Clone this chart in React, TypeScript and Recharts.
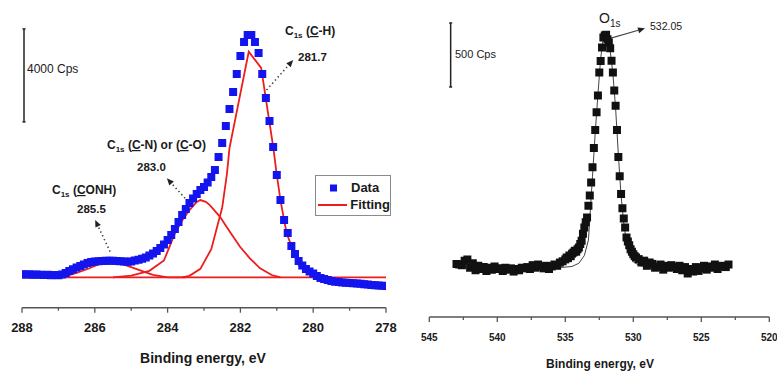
import React from "react";
import { ComposedChart, Scatter, Line, XAxis, YAxis, ReferenceLine, Legend } from "recharts";

const FONT = "'Liberation Sans', Arial, Helvetica, sans-serif";
const AXIS = "#555";
const BLUE = "#1414ee";
const RED = "#ee1c1c";
const INK = "#1a1a1a";

// C1s: channels every 0.1 eV from 288.0 down to 278.0
const C1S_START = 288;
const C1S_STEP = 0.1;
const C1S_COUNTS = [
  1138, 1129, 1138, 1116, 1129, 1116, 1108, 1120, 1099, 1108,
  1095, 1129, 1194, 1280, 1353, 1430, 1495, 1559, 1624, 1667,
  1688, 1701, 1710, 1718, 1723, 1723, 1710, 1701, 1688, 1680,
  1688, 1731, 1761, 1804, 1860, 1946, 2032, 2140, 2269, 2419,
  2613, 2828, 3086, 3387, 3688, 3946, 4204, 4398, 4591, 4763,
  4892, 5086, 5322, 5624, 6183, 6785, 7516, 8247, 8978, 9753,
  10527, 11129, 11430, 11430, 11129, 10656, 9753, 8720, 7731, 6613,
  5408, 4333, 3473, 2914, 2355, 2011, 1710, 1516, 1366, 1258,
  1172, 1065, 978, 935, 892, 849, 819, 806, 785, 772,
  763, 751, 742, 729, 708, 695, 677, 669, 656, 643,
  634,
];

// fitted components
const BG_E = [288, 278];
const BG_C = [1000, 1000];
const CONH_E = [288, 287, 286.8, 286.5, 286.2, 285.9, 285.6, 285.5, 285.3, 285.1, 284.85, 284.6, 284.4, 284, 283.5];
const CONH_C = [1000, 1005, 1060, 1200, 1365, 1560, 1645, 1650, 1605, 1500, 1361, 1220, 1116, 1005, 1000];
const CN_E = [285.5, 285, 284.5, 284.1, 283.8, 283.6, 283.4, 283.2, 283.1, 282.95, 282.84, 282.56, 282.29, 282.01, 281.74, 281.46, 281.14, 280.9];
const CN_C = [1000, 1075, 1285, 1730, 2900, 3450, 3900, 4250, 4330, 4250, 4110, 3610, 2970, 2320, 1825, 1395, 1105, 1000];
const CH_E = [283.6, 283.4, 283.1, 282.8, 282.5, 282.37, 282.3, 281.77, 281.43, 281.1, 281, 280.9, 280.73, 280.4, 280.1, 279.6];
const CH_C = [1000, 1070, 1370, 2220, 4010, 5450, 6560, 10710, 10010, 6630, 5410, 4330, 2900, 1540, 1180, 1000];

const C1S_TICKS = [288, 287, 286, 285, 284, 283, 282, 281, 280, 279, 278];
const C1S_LABELS = [288, 286, 284, 282, 280, 278];

// O1s
const O1S_E = [
  543, 542.8, 542.6, 542.4, 542.2, 542, 541.8, 541.6, 541.4, 541.2,
  541, 540.8, 540.6, 540.4, 540.2, 540, 539.8, 539.6, 539.4, 539.2,
  539, 538.8, 538.6, 538.4, 538.2, 538, 537.8, 537.6, 537.4, 537.2,
  537, 536.8, 536.6, 536.4, 536.2, 536, 535.8, 535.6, 535.4, 535.2,
  535, 534.9, 534.8, 534.7, 534.6, 534.5, 534.4, 534.3, 534.2, 534.1,
  534, 533.9, 533.8, 533.7, 533.6, 533.5, 533.4, 533.3, 533.2, 533.1,
  533, 532.9, 532.8, 532.7, 532.6, 532.5, 532.4, 532.3, 532.2, 532.1,
  532, 531.9, 531.8, 531.7, 531.6, 531.5, 531.4, 531.3, 531.2, 531.1,
  531, 530.9, 530.8, 530.7, 530.6, 530.5, 530.4, 530.3, 530.2, 530.1,
  530, 529.9, 529.8,
  529.6, 529.4, 529.2, 529, 528.8, 528.6, 528.4, 528.2, 528, 527.8,
  527.6, 527.4, 527.2, 527, 526.8, 526.6, 526.4, 526.2, 526, 525.8,
  525.6, 525.4, 525.2, 525, 524.8, 524.6, 524.4, 524.2, 524, 523.8,
  523.6, 523.4, 523.2, 523,
];
const O1S_C = [
  2015, 2010, 2005, 2040, 2050, 1985, 2020, 1965, 2000, 1975,
  1990, 1960, 1985, 1970, 1995, 1975, 1980, 1960, 1985, 1970,
  1980, 1955, 1975, 1965, 1985, 1980, 1990, 1975, 2005, 1985,
  2010, 1995, 1980, 2000, 1975, 1995, 2010, 2000, 2025, 2035,
  2050, 2065, 2060, 2080, 2075, 2095, 2104, 2117, 2110, 2130,
  2143, 2170, 2195, 2250, 2299, 2340, 2377, 2469, 2550, 2650,
  2770, 2920, 3060, 3200, 3330, 3510, 3600, 3705, 3784, 3800,
  3805, 3770, 3745, 3700, 3601, 3510, 3370, 3250, 3060, 2850,
  2700, 2560, 2450, 2370, 2299, 2221, 2190, 2160, 2130, 2110,
  2091, 2075, 2065,
  2052, 2026, 2040, 2000, 2026, 2015, 1985, 1995, 2010, 1970,
  2000, 1985, 2005, 1990, 1975, 2000, 1965, 1990, 1940, 1975,
  1955, 1990, 1960, 1980, 2000, 1970, 1995, 1985, 2010, 1975,
  1995, 2000, 1990, 2010,
];
const O1S_FIT_E = [543, 538, 535.5, 534.5, 534, 533.6, 533.3, 533, 532.8, 532.6, 532.4, 532.2, 532.05, 531.9, 531.7, 531.5, 531.3, 531.1, 530.9, 530.7, 530.5, 530.3, 530, 529.5, 528.5, 523];
const O1S_FIT_C = [1990, 1985, 1985, 1995, 2020, 2080, 2200, 2700, 3040, 3340, 3620, 3790, 3820, 3780, 3680, 3500, 3230, 2870, 2550, 2330, 2180, 2090, 2030, 2000, 1990, 1990];

const O1S_TICKS = [545, 542.5, 540, 537.5, 535, 532.5, 530, 527.5, 525, 522.5, 520];
const O1S_LABELS = [545, 540, 535, 530, 525, 520];

const LEGEND_NAMES = ["Data", "Fitting"];

const pts = (xs: number[], ys: number[]) => xs.map((x, i) => ({ x, y: ys[i] }));

const c1sData = C1S_COUNTS.map((y, i) => ({ x: Number((C1S_START - i * C1S_STEP).toFixed(2)), y }));
const o1sData = pts(O1S_E, O1S_C);

function makeTick(labels: number[], fontSize: number, labelDy: number) {
  return (props: any) => {
    const { x, y, payload } = props;
    const major = labels.includes(payload.value);
    return (
      <g>
        <line x1={x} y1={y} x2={x} y2={y + (major ? 5 : 3)} stroke={AXIS} strokeWidth={1.3} />
        {major && (
          <text x={x} y={y + labelDy} textAnchor="middle" fontSize={fontSize} fontWeight="bold" fill={INK} fontFamily={FONT}>
            {payload.value}
          </text>
        )}
      </g>
    );
  };
}

const arrowShape = (dashed: boolean) => (props: any) => {
  const { x1, y1, x2, y2 } = props;
  const a = Math.atan2(y2 - y1, x2 - x1);
  const L = 7;
  const W = 3;
  const bx = x2 - L * Math.cos(a);
  const by = y2 - L * Math.sin(a);
  const head = `${x2},${y2} ${bx - W * Math.sin(a)},${by + W * Math.cos(a)} ${bx + W * Math.sin(a)},${by - W * Math.cos(a)}`;
  return (
    <g>
      <line x1={x1} y1={y1} x2={bx} y2={by} stroke="#444" strokeWidth={dashed ? 1.6 : 1.2} strokeDasharray={dashed ? "1.4 2.8" : undefined} />
      <polygon points={head} fill="#222" />
    </g>
  );
};

const scaleBar = (props: any) => {
  const { x1, y1, x2, y2 } = props;
  return (
    <g stroke="#222" strokeWidth={1.5}>
      <line x1={x1} y1={y1} x2={x2} y2={y2} />
      <line x1={x1 - 1.5} y1={y1} x2={x1 + 1.5} y2={y1} />
      <line x1={x2 - 1.5} y1={y2} x2={x2 + 1.5} y2={y2} />
    </g>
  );
};

const renderLegend = (props: any) => {
  const items = (props.payload || []).filter((p: any) => LEGEND_NAMES.includes(p.value));
  return (
    <div style={{ border: "1px solid #8a8a8a", background: "#fff", padding: "3px 0 2px 2px", fontFamily: FONT, fontWeight: "bold", fontSize: 13, color: INK, width: 72 }}>
      {items.map((p: any) => (
        <div key={p.value} style={{ display: "flex", alignItems: "center", height: 17 }}>
          <svg width={30} height={10}>
            {p.value === "Data" ? (
              <rect x={12} y={1.5} width={7} height={7} fill={BLUE} />
            ) : (
              <line x1={0} y1={5} x2={30} y2={5} stroke={RED} strokeWidth={2} />
            )}
          </svg>
          <span style={{ marginLeft: 3 }}>{p.value}</span>
        </div>
      ))}
    </div>
  );
};

function C1sChart() {
  return (
    <ComposedChart width={400} height={378} margin={{ top: 21.7, right: 14, bottom: 10.3, left: 22 }}>
      <XAxis
        type="number"
        dataKey="x"
        domain={[278, 288]}
        reversed
        allowDataOverflow
        ticks={C1S_TICKS}
        interval={0}
        tickSize={0}
        tickMargin={0}
        tickLine={false}
        tick={makeTick(C1S_LABELS, 13, 24)}
        axisLine={{ stroke: AXIS, strokeWidth: 1.5 }}
        height={60}
      />
      <YAxis hide type="number" dataKey="y" domain={[-300, 12000]} allowDataOverflow />
      <ReferenceLine segment={[{ x: 287.945, y: 7690 }, { x: 287.945, y: 11690 }]} ifOverflow="visible" shape={scaleBar} />
      <ReferenceLine segment={[{ x: 281.28, y: 9064 }, { x: 280.55, y: 10355 }]} ifOverflow="visible" shape={arrowShape(true)} />
      <ReferenceLine segment={[{ x: 283.52, y: 4406 }, { x: 284.02, y: 5266 }]} ifOverflow="visible" shape={arrowShape(true)} />
      <ReferenceLine segment={[{ x: 285.58, y: 2110 }, { x: 285.99, y: 3473 }]} ifOverflow="visible" shape={arrowShape(true)} />
      <Scatter name="Data" data={c1sData} dataKey="y" fill={BLUE} shape="square" size={40} isAnimationActive={false} />
      <Line name="Fitting" data={pts(BG_E, BG_C)} dataKey="y" stroke={RED} strokeWidth={1.8} dot={false} isAnimationActive={false} />
      <Line name="CONH" data={pts(CONH_E, CONH_C)} dataKey="y" stroke={RED} strokeWidth={1.8} dot={false} legendType="none" isAnimationActive={false} />
      <Line name="CN" data={pts(CN_E, CN_C)} dataKey="y" stroke={RED} strokeWidth={1.8} dot={false} legendType="none" isAnimationActive={false} />
      <Line name="CH" data={pts(CH_E, CH_C)} dataKey="y" stroke={RED} strokeWidth={1.8} dot={false} legendType="none" isAnimationActive={false} />
      <Legend
        layout="vertical"
        align="center"
        verticalAlign="middle"
        content={renderLegend}
        wrapperStyle={{ left: 315, top: 175, width: 76 }}
      />
    </ComposedChart>
  );
}

function O1sChart() {
  return (
    <ComposedChart width={377} height={378} margin={{ top: 16.2, right: 7.7, bottom: 5, left: 29.3 }}>
      <XAxis
        type="number"
        dataKey="x"
        domain={[520, 545]}
        reversed
        allowDataOverflow
        ticks={O1S_TICKS}
        interval={0}
        tickSize={0}
        tickMargin={0}
        tickLine={false}
        tick={makeTick(O1S_LABELS, 10, 23.5)}
        axisLine={{ stroke: AXIS, strokeWidth: 1.5 }}
        height={56}
      />
      <YAxis hide type="number" dataKey="y" domain={[1600, 3950]} allowDataOverflow />
      <ReferenceLine segment={[{ x: 543.43, y: 3397 }, { x: 543.43, y: 3897 }]} ifOverflow="visible" shape={scaleBar} />
      <ReferenceLine segment={[{ x: 531.96, y: 3769 }, { x: 529.14, y: 3855 }]} ifOverflow="visible" shape={arrowShape(false)} />
      <Line data={pts(O1S_FIT_E, O1S_FIT_C)} dataKey="y" stroke="#444" strokeWidth={1} dot={false} isAnimationActive={false} />
      <Scatter data={o1sData} dataKey="y" fill="#111" shape="square" size={20} isAnimationActive={false} />
    </ComposedChart>
  );
}

export default function App() {
  const sub = { fontSize: 8 };
  return (
    <div style={{ position: "absolute", left: 0, top: 0, width: 777, height: 378, background: "#fff", fontFamily: FONT }}>
      <div style={{ position: "absolute", left: 0, top: 0 }}>
        <C1sChart />
      </div>
      <div style={{ position: "absolute", left: 400, top: 0 }}>
        <O1sChart />
      </div>
      <svg width={777} height={378} style={{ position: "absolute", left: 0, top: 0, pointerEvents: "none" }} fontFamily={FONT} fill={INK}>
        <text x={27} y={73} fontSize={12}>4000 Cps</text>
        <text x={285} y={35} fontSize={12} fontWeight="bold">
          C<tspan dy={3} {...sub}>1s</tspan><tspan dy={-3}> (</tspan><tspan style={{ textDecoration: "underline" }}>C</tspan>-H)
        </text>
        <text x={298} y={61} fontSize={11.5} fontWeight="bold">281.7</text>
        <text x={107} y={149} fontSize={12} fontWeight="bold">
          C<tspan dy={3} {...sub}>1s</tspan><tspan dy={-3}> (</tspan><tspan style={{ textDecoration: "underline" }}>C</tspan>-N) or (<tspan style={{ textDecoration: "underline" }}>C</tspan>-O)
        </text>
        <text x={137} y={171} fontSize={11.5} fontWeight="bold">283.0</text>
        <text x={52} y={194} fontSize={12} fontWeight="bold">
          C<tspan dy={3} {...sub}>1s</tspan><tspan dy={-3}> (</tspan><tspan style={{ textDecoration: "underline" }}>C</tspan>ONH)
        </text>
        <text x={77} y={213} fontSize={11.5} fontWeight="bold">285.5</text>
        <text x={203} y={363} fontSize={14} fontWeight="bold" textAnchor="middle">Binding energy, eV</text>

        <text x={455} y={58} fontSize={11}>500 Cps</text>
        <text x={599} y={23} fontSize={14}>
          O<tspan dy={4} fontSize={10}>1s</tspan>
        </text>
        <text x={650} y={30} fontSize={10.5}>532.05</text>
        <text x={600} y={367.5} fontSize={12} fontWeight="bold" textAnchor="middle">Binding energy, eV</text>
      </svg>
    </div>
  );
}
